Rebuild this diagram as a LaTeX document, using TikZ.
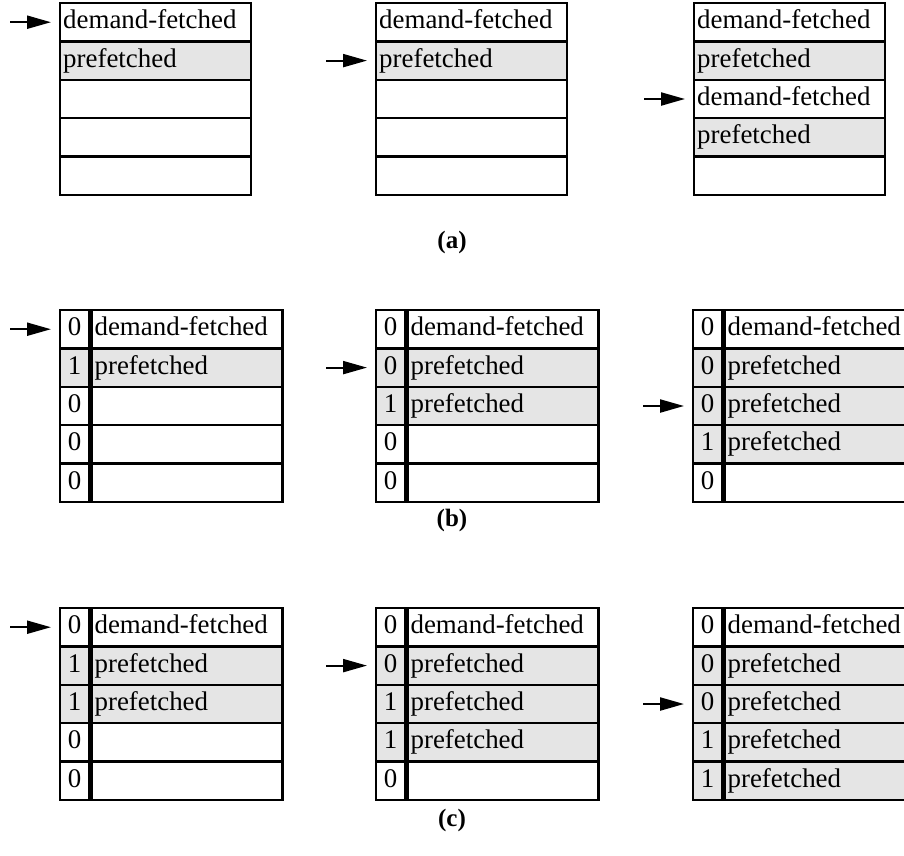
\documentclass[tikz,border=0pt]{standalone}
\usepackage{fontspec}
\setmainfont{Liberation Serif}
\usetikzlibrary{positioning,arrows.meta}
\tikzstyle{diagram} = [x = 1pt, y = -1pt]
\definecolor{cacheGray}{RGB}{229,229,229}
\tikzstyle{cellStyle} = [draw=black, line width=2.4pt, rectangle, inner ysep=0pt, outer ysep=0pt, minimum height=38.4pt, text height=19pt, text depth=6pt, font=\fontsize{26.9}{30}\selectfont]
\tikzstyle{textCell} = [cellStyle, anchor=north west, inner xsep=3pt, text width=185pt, align=left]
\tikzstyle{bitCell} = [cellStyle, anchor=north west, inner xsep=0pt, minimum width=29pt]
\tikzstyle{pointer} = [-{Triangle[length=24pt, width=13pt]}, line width=2.2pt, shorten >=8pt]
\tikzstyle{caption} = [font=\fontsize{25}{28}\selectfont\bfseries]
\newcommand{\rowHeight}{38.4}
% table of blocks: name, left, top, list of text/shade
\newcommand{\plainTable}[4]{
  \foreach \txt/\shade [count=\r] in {#4} {
    \node [textCell, fill=\shade] (#1t\r) at (#2, {#3 + (\r - 1) * \rowHeight}) {\txt};
  }
}
% same with a prefetch bit in front: bit/text/shade
\newcommand{\bitTable}[4]{
  \foreach \bit/\txt/\shade [count=\r] in {#4} {
    \node [bitCell, fill=\shade] (#1b\r) at (#2, {#3 + (\r - 1) * \rowHeight}) {\bit};
    \node [textCell, fill=\shade, right=0pt of #1b\r] (#1t\r) {\txt};
  }
}
\newcommand{\pointerAt}[2]{
  \coordinate [left=49pt of #1] (#2);
  \draw [pointer] (#2) -- (#1);
}

\begin{document}
\begin{tikzpicture}[diagram]
  \clip (0,0) rectangle (904,855);
  % (a)
  \plainTable{A1}{59}{3}{demand-fetched/white, prefetched/cacheGray, /white, /white, /white}
  \plainTable{A2}{375}{3}{demand-fetched/white, prefetched/cacheGray, /white, /white, /white}
  \plainTable{A3}{693}{3}{demand-fetched/white, prefetched/cacheGray, demand-fetched/white, prefetched/cacheGray, /white}
  \pointerAt{A1t1}{pA1}
  \pointerAt{A2t2}{pA2}
  \pointerAt{A3t3}{pA3}
  \node [caption] (capA) at (452, 242) {(a)};
  % (b)
  \bitTable{B1}{59}{310}{0/demand-fetched/white, 1/prefetched/cacheGray, 0//white, 0//white, 0//white}
  \bitTable{B2}{375}{310}{0/demand-fetched/white, 0/prefetched/cacheGray, 1/prefetched/cacheGray, 0//white, 0//white}
  \bitTable{B3}{692}{310}{0/demand-fetched/white, 0/prefetched/cacheGray, 0/prefetched/cacheGray, 1/prefetched/cacheGray, 0//white}
  \pointerAt{B1b1}{pB1}
  \pointerAt{B2b2}{pB2}
  \pointerAt{B3b3}{pB3}
  \node [caption] (capB) at (452, 520) {(b)};
  % (c)
  \bitTable{C1}{59}{608}{0/demand-fetched/white, 1/prefetched/cacheGray, 1/prefetched/cacheGray, 0//white, 0//white}
  \bitTable{C2}{375}{608}{0/demand-fetched/white, 0/prefetched/cacheGray, 1/prefetched/cacheGray, 1/prefetched/cacheGray, 0//white}
  \bitTable{C3}{692}{608}{0/demand-fetched/white, 0/prefetched/cacheGray, 0/prefetched/cacheGray, 1/prefetched/cacheGray, 1/prefetched/cacheGray}
  \pointerAt{C1b1}{pC1}
  \pointerAt{C2b2}{pC2}
  \pointerAt{C3b3}{pC3}
  \node [caption] (capC) at (452, 820) {(c)};
\end{tikzpicture}
\end{document}
